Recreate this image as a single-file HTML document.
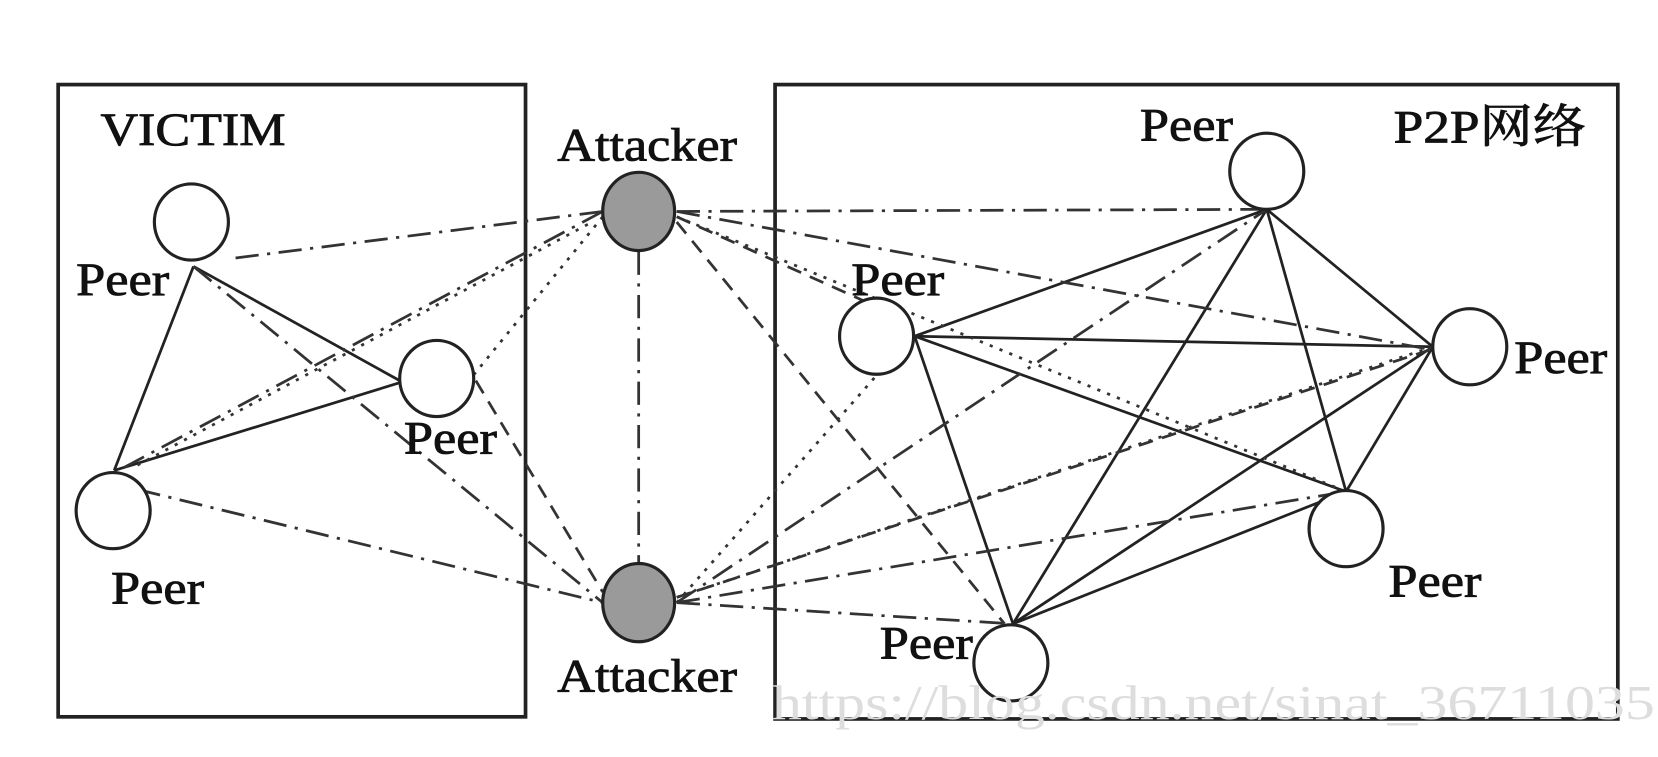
<!DOCTYPE html>
<html><head><style>
html,body{margin:0;padding:0;background:#fff;}
svg{display:block;}
text{font-family:"Liberation Serif","Noto Serif CJK SC",serif;fill:#111;}
</style></head><body>
<svg width="1658" height="757" viewBox="0 0 1568 716" preserveAspectRatio="none" xmlns="http://www.w3.org/2000/svg">
<rect width="1568" height="716" fill="#fff"/>
<rect x="55" y="80" width="442" height="598" fill="none" stroke="#222" stroke-width="3.5"/>
<rect x="733" y="80" width="797" height="600" fill="none" stroke="#222" stroke-width="3.5"/>
<g stroke="#222" stroke-width="2.6" fill="none">
<line x1="183" y1="252" x2="108" y2="445"/>
<line x1="183" y1="252" x2="378" y2="360"/>
<line x1="108" y1="445" x2="378" y2="362"/>
<line x1="865" y1="318" x2="1198" y2="198"/>
<line x1="865" y1="318" x2="1355" y2="328"/>
<line x1="865" y1="318" x2="1273" y2="465"/>
<line x1="865" y1="318" x2="958" y2="590"/>
<line x1="1198" y1="198" x2="1355" y2="328"/>
<line x1="1198" y1="198" x2="1273" y2="465"/>
<line x1="1198" y1="198" x2="958" y2="590"/>
<line x1="1355" y1="328" x2="1273" y2="465"/>
<line x1="1355" y1="328" x2="958" y2="590"/>
<line x1="1273" y1="465" x2="958" y2="590"/>
</g>
<g stroke="#333" stroke-width="2.6" fill="none">
<g stroke-dasharray="22,8,3,8">
<line x1="570" y1="200" x2="215" y2="245"/>
<line x1="570" y1="200" x2="112" y2="445"/>
<line x1="640" y1="200" x2="1198" y2="198"/>
<line x1="640" y1="200" x2="1350" y2="330"/>
<line x1="604" y1="238" x2="604" y2="532"/>
<line x1="130" y1="463" x2="570" y2="570"/>
<line x1="640" y1="570" x2="1198" y2="198"/>
<line x1="640" y1="570" x2="1273" y2="465"/>
<line x1="640" y1="570" x2="956" y2="590"/>
<line x1="183" y1="252" x2="570" y2="570"/>
</g>
<g stroke-dasharray="3,7">
<line x1="570" y1="205" x2="415" y2="395"/>
<line x1="640" y1="205" x2="1273" y2="465"/>
<line x1="640" y1="570" x2="829" y2="355"/>
<line x1="640" y1="565" x2="1355" y2="328"/>
<line x1="130" y1="440" x2="560" y2="210"/>
</g>
<g stroke-dasharray="14,9">
<line x1="640" y1="205" x2="829" y2="290"/>
<line x1="640" y1="210" x2="950" y2="590"/>
<line x1="450" y1="360" x2="570" y2="560"/>
<line x1="640" y1="565" x2="1355" y2="330"/>
</g>
</g>
<g stroke="#222" stroke-width="3">
<ellipse cx="181" cy="210" rx="35" ry="36" fill="#fff"/>
<ellipse cx="413" cy="358" rx="35" ry="36" fill="#fff"/>
<ellipse cx="107" cy="483" rx="35" ry="36" fill="#fff"/>
<ellipse cx="1198" cy="162" rx="35" ry="36" fill="#fff"/>
<ellipse cx="829" cy="318" rx="35" ry="36" fill="#fff"/>
<ellipse cx="1390" cy="328" rx="35" ry="36" fill="#fff"/>
<ellipse cx="1273" cy="500" rx="35" ry="36" fill="#fff"/>
<ellipse cx="956" cy="627" rx="35" ry="36" fill="#fff"/>
<ellipse cx="604" cy="200" rx="34" ry="37" fill="#9a9a9a"/>
<ellipse cx="604" cy="570" rx="34" ry="37" fill="#9a9a9a"/>
</g>
<g font-size="44" stroke="#111" stroke-width="0.8">
<text x="95" y="137" textLength="175" lengthAdjust="spacingAndGlyphs">VICTIM</text>
<text x="527" y="152" textLength="170" lengthAdjust="spacingAndGlyphs">Attacker</text>
<text x="527" y="654" textLength="170" lengthAdjust="spacingAndGlyphs">Attacker</text>
<text x="72" y="279" textLength="88" lengthAdjust="spacingAndGlyphs">Peer</text>
<text x="382" y="429" textLength="88" lengthAdjust="spacingAndGlyphs">Peer</text>
<text x="105" y="571" textLength="88" lengthAdjust="spacingAndGlyphs">Peer</text>
<text x="1078" y="133" textLength="88" lengthAdjust="spacingAndGlyphs">Peer</text>
<text x="805" y="279" textLength="88" lengthAdjust="spacingAndGlyphs">Peer</text>
<text x="1432" y="353" textLength="88" lengthAdjust="spacingAndGlyphs">Peer</text>
<text x="1313" y="564" textLength="88" lengthAdjust="spacingAndGlyphs">Peer</text>
<text x="832" y="623" textLength="88" lengthAdjust="spacingAndGlyphs">Peer</text>
<text x="1318" y="135" textLength="182" lengthAdjust="spacingAndGlyphs">P2P网络</text>
</g>
<text x="730" y="680" font-size="46" style="fill:#ddd" font-family="Liberation Sans,sans-serif" textLength="835" lengthAdjust="spacingAndGlyphs">https://blog.csdn.net/sinat_36711035</text>
</svg>
</body></html>
